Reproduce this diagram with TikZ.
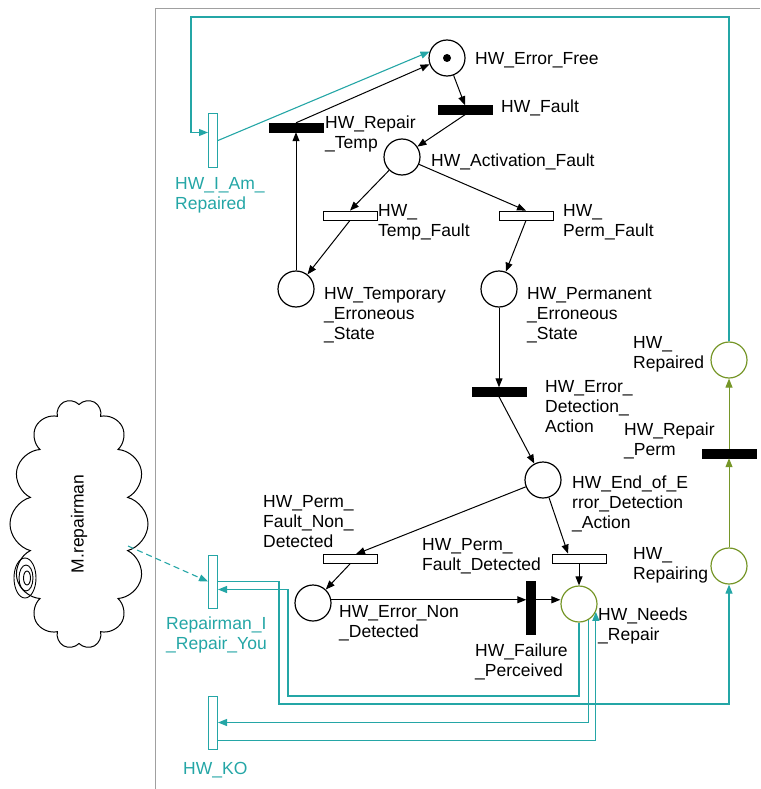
\documentclass[tikz,border=0pt]{standalone}
\usepackage{fontspec}
\setmainfont{Liberation Sans}
\usetikzlibrary{arrows.meta,shapes.symbols}
\definecolor{tealc}{RGB}{36,166,166}
\definecolor{olivec}{RGB}{118,150,40}
\definecolor{framec}{RGB}{160,160,160}

\begin{document}
\begin{tikzpicture}[x=1pt,y=-1pt,
    font=\fontsize{17.5}{20}\selectfont,
    >={Triangle[length=9pt,width=7pt]},
    place/.style={circle,draw,line width=1.2pt,minimum size=36pt,inner sep=0pt},
    gplace/.style={place,draw=olivec},
    blackbar/.style={draw,fill=black,minimum width=54pt,minimum height=9pt,inner sep=0pt},
    whitebar/.style={draw,fill=white,line width=0.8pt,minimum width=54pt,minimum height=9pt,inner sep=0pt},
    tealbar/.style={draw=tealc,fill=white,line width=1pt,minimum width=9pt,minimum height=53pt,inner sep=0pt},
    lbl/.style={anchor=base west,align=left,inner sep=0pt},
    tlbl/.style={lbl,text=tealc},
    parc/.style={->,line width=1pt},
    tarc/.style={->,color=tealc,line width=1.1pt}]
    \useasboundingbox (0,0) rectangle (760,789);
    \draw[framec,line width=0.8pt] (155,789) -- (155,8) -- (760,8);

    % places
    \node[place] (ef) at (447,58) {};
    \fill (ef) circle (4pt);
    \node[place] (af) at (402,157) {};
    \node[place] (ts) at (296,289) {};
    \node[place] (ps) at (499,289) {};
    \node[place] (ee) at (543,480) {};
    \node[place] (ens) at (313,603) {};
    \node[gplace] (nr) at (579,604) {};
    \node[gplace] (rg) at (729,566) {};
    \node[gplace] (rd) at (729,360) {};

    % transitions
    \node[blackbar] (fault) at (465,110) {};
    \node[blackbar] (rt) at (296,127.5) {};
    \node[whitebar] (tf) at (350,215.5) {};
    \node[whitebar] (pf) at (526,215.5) {};
    \node[blackbar] (eda) at (499,392) {};
    \node[whitebar] (pfn) at (350,559) {};
    \node[whitebar] (pfd) at (579,558.5) {};
    \node[blackbar,minimum width=9pt,minimum height=53pt] (fp) at (531,607.5) {};
    \node[blackbar] (rpm) at (729,453.5) {};
    \node[tealbar] (iar) at (213,140.5) {};
    \node[tealbar] (riry) at (213,581.5) {};
    \node[tealbar] (ko) at (213,722.5) {};

    % the repairman
    \node[cloud,draw,line width=1pt,rotate=90,cloud puffs=14,aspect=1.8,
          minimum width=250pt,minimum height=138pt] (rep) at (79,524) {M.repairman};
    \draw[line width=0.9pt] (25,578) ellipse (11pt and 20pt)
        (26,578) ellipse (7pt and 13pt) (27,578) ellipse (3.5pt and 7pt);
    \coordinate (rep-out) at (128,546);

    % labels (placed at the baseline of their last line)
    \node[lbl] (ef-l) at (475,65) {HW\_Error\_Free};
    \node[lbl] (fault-l) at (501,113) {HW\_Fault};
    \node[lbl] (rt-l) at (325,148) {HW\_Repair\\\_Temp};
    \node[lbl] (af-l) at (431,166) {HW\_Activation\_Fault};
    \node[lbl] (tf-l) at (378,236) {HW\_\\Temp\_Fault};
    \node[lbl] (pf-l) at (563,236) {HW\_\\Perm\_Fault};
    \node[lbl] (ts-l) at (324,339) {HW\_Temporary\\\_Erroneous\\\_State};
    \node[lbl] (ps-l) at (527,339) {HW\_Permanent\\\_Erroneous\\\_State};
    \node[lbl] (rd-l) at (633,368) {HW\_\\Repaired};
    \node[lbl] (eda-l) at (545,432) {HW\_Error\_\\Detection\_\\Action};
    \node[lbl] (rpm-l) at (624,455) {HW\_Repair\\\_Perm};
    \node[lbl] (ee-l) at (572,528) {HW\_End\_of\_E\\rror\_Detection\\\_Action};
    \node[lbl] (pfn-l) at (263,547) {HW\_Perm\_\\Fault\_Non\_\\Detected};
    \node[lbl] (pfd-l) at (422,570) {HW\_Perm\_\\Fault\_Detected};
    \node[lbl] (ens-l) at (339,637) {HW\_Error\_Non\\\_Detected};
    \node[lbl] (fp-l) at (475,676) {HW\_Failure\\\_Perceived};
    \node[lbl] (nr-l) at (598,640) {HW\_Needs\\\_Repair};
    \node[lbl] (rg-l) at (633,579) {HW\_\\Repairing};
    \node[tlbl] (iar-l) at (175,209) {HW\_I\_Am\_\\Repaired};
    \node[tlbl] (riry-l) at (166,649) {Repairman\_I\\\_Repair\_You};
    \node[tlbl] (ko-l) at (183,774) {HW\_KO};

    % black arcs
    \draw[parc] (ef) -- (fault.north);
    \draw[parc] (fault.south) -- (af);
    \draw[parc] (af) -- (tf.north);
    \draw[parc] (af) -- (pf.north);
    \draw[parc] (tf.south) -- (ts);
    \draw[parc] (pf.south) -- (ps);
    \draw[parc] (ts) -- (rt.south);
    \draw[parc] (rt.north) -- (ef.200);
    \draw[parc] (ps) -- (eda.north);
    \draw[parc] (eda.south) -- (ee);
    \draw[parc] (ee) -- ([xshift=6pt]pfn.north);
    \draw[parc] (ee) -- ([xshift=-11pt]pfd.north);
    \draw[parc] (pfn.south) -- (ens);
    \draw[parc] (pfd.south) -- (nr);
    \draw[parc] (ens.10) -- (ens.10 -| fp.west);
    \draw[parc] (ens.10 -| fp.east) -- (ens.10 -| nr.west);

    % green arcs
    \draw[parc,color=olivec] (rg) -- (rpm.south);
    \draw[parc,color=olivec] (rpm.north) -- (rd);

    % teal arcs
    \coordinate (c1) at (288,696);
    \coordinate (c2) at (279,704);
    \coordinate (c3) at (191,17);
    \draw[tarc] (iar.east) -- (ef.160);
    \draw[tarc] (rd.north) |- (c3) |- ([yshift=8pt]iar.west);
    \draw[tarc] (nr.south) |- (c1) |- ([yshift=-8pt]riry.east);
    \draw[tarc] (riry.east) -| (c2) -| (rg.south);
    \draw[tarc] (nr.-60) |- (ko.east);
    \draw[tarc] ([yshift=-18pt]ko.east) -| (nr.-25);
    \draw[tarc,dash pattern=on 6pt off 4pt] (rep-out) -- (riry.west);
\end{tikzpicture}
\end{document}
